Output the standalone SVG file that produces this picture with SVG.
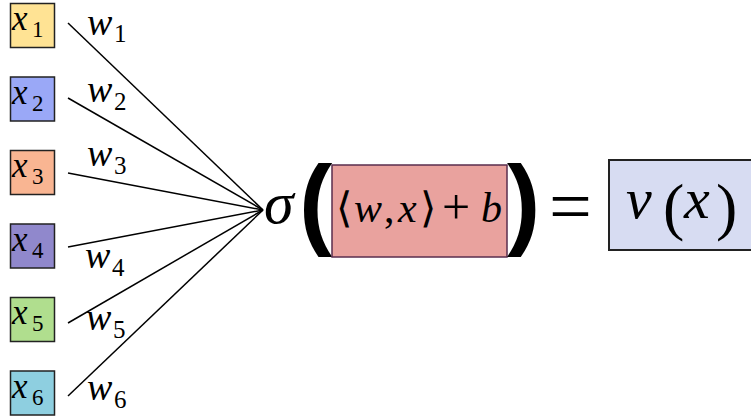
<svg xmlns="http://www.w3.org/2000/svg" width="751" height="418" viewBox="0 0 751 418">
<style>
.bx{stroke:#222;stroke-width:1.5}
.it{font-style:italic}
.xl{font-size:35px}
.xs{font-size:23px;font-style:normal}
.wl{font-size:38px}
.ws{font-size:25px;font-style:normal}
.con line{stroke:#000;stroke-width:1.5}
.bp{font-family:"Liberation Sans",sans-serif;font-weight:bold;font-size:100px}
</style>
<rect width="751" height="418" fill="#fff"/>
<g font-family="'Liberation Serif', serif" fill="#000">
<g id="x1"><rect class="bx" x="10.5" y="3.5" width="44" height="44" fill="#FFE394"/><text class="it xl" x="12" y="30">x<tspan class="xs" x="32" y="37">1</tspan></text></g>
<g id="x2"><rect class="bx" x="10.5" y="77" width="44" height="44" fill="#9AA8F7"/><text class="it xl" x="12" y="104">x<tspan class="xs" x="32" y="111">2</tspan></text></g>
<g id="x3"><rect class="bx" x="10.5" y="150.5" width="44" height="44" fill="#F9B592"/><text class="it xl" x="12" y="177">x<tspan class="xs" x="32" y="184">3</tspan></text></g>
<g id="x4"><rect class="bx" x="10.5" y="224" width="44" height="44" fill="#9088CC"/><text class="it xl" x="12" y="251">x<tspan class="xs" x="32" y="258">4</tspan></text></g>
<g id="x5"><rect class="bx" x="10.5" y="297.5" width="44" height="44" fill="#B0DE8E"/><text class="it xl" x="12" y="324">x<tspan class="xs" x="32" y="331">5</tspan></text></g>
<g id="x6"><rect class="bx" x="10.5" y="371" width="44" height="44" fill="#8ECFE0"/><text class="it xl" x="12" y="398">x<tspan class="xs" x="32" y="405">6</tspan></text></g>
<g class="con" id="connectors">
<line x1="68" y1="23" x2="263" y2="210"/>
<line x1="68" y1="98" x2="263" y2="210"/>
<line x1="68" y1="173" x2="263" y2="210"/>
<line x1="68" y1="247" x2="263" y2="210"/>
<line x1="68" y1="323" x2="263" y2="210"/>
<line x1="68" y1="396" x2="263" y2="210"/>
</g>
<g id="weights">
<text class="it wl" x="87" y="35">w<tspan class="ws" x="114" y="42">1</tspan></text>
<text class="it wl" x="87" y="102">w<tspan class="ws" x="114" y="110">2</tspan></text>
<text class="it wl" x="87" y="166">w<tspan class="ws" x="114" y="174">3</tspan></text>
<text class="it wl" x="85" y="268">w<tspan class="ws" x="112" y="276">4</tspan></text>
<text class="it wl" x="86" y="330">w<tspan class="ws" x="113" y="338">5</tspan></text>
<text class="it wl" x="87" y="400">w<tspan class="ws" x="114" y="408">6</tspan></text>
</g>
<g id="sigma"><text class="it" x="264" y="223" font-size="60">σ</text></g>
<g id="lparen"><text class="bp" x="299" y="236">(</text></g>
<g id="inner"><rect x="332" y="165" width="175" height="92" fill="#E9A29E" stroke="#5A2E4E" stroke-width="1.5"/>
<text y="222" font-size="42"><tspan x="336">⟨</tspan><tspan class="it" x="354">w</tspan><tspan x="384">,</tspan><tspan class="it" x="398">x</tspan><tspan x="420">⟩</tspan><tspan x="442" font-size="50" y="224">+</tspan><tspan class="it" x="481" y="222" font-size="42">b</tspan></text></g>
<g id="rparen"><text class="bp" x="507" y="236">)</text></g>
<g id="eq"><text x="549" y="232" font-size="76">=</text></g>
<g id="out"><rect x="609" y="160" width="150" height="90" fill="#D7DCF2" stroke="#222" stroke-width="2"/>
<text y="218" font-size="58"><tspan class="it" x="626">ν</tspan><tspan x="663" y="228" font-size="64">(</tspan><tspan class="it" x="684" y="218" font-size="58">x</tspan><tspan x="716" y="228" font-size="64">)</tspan></text></g>
</g>
</svg>
